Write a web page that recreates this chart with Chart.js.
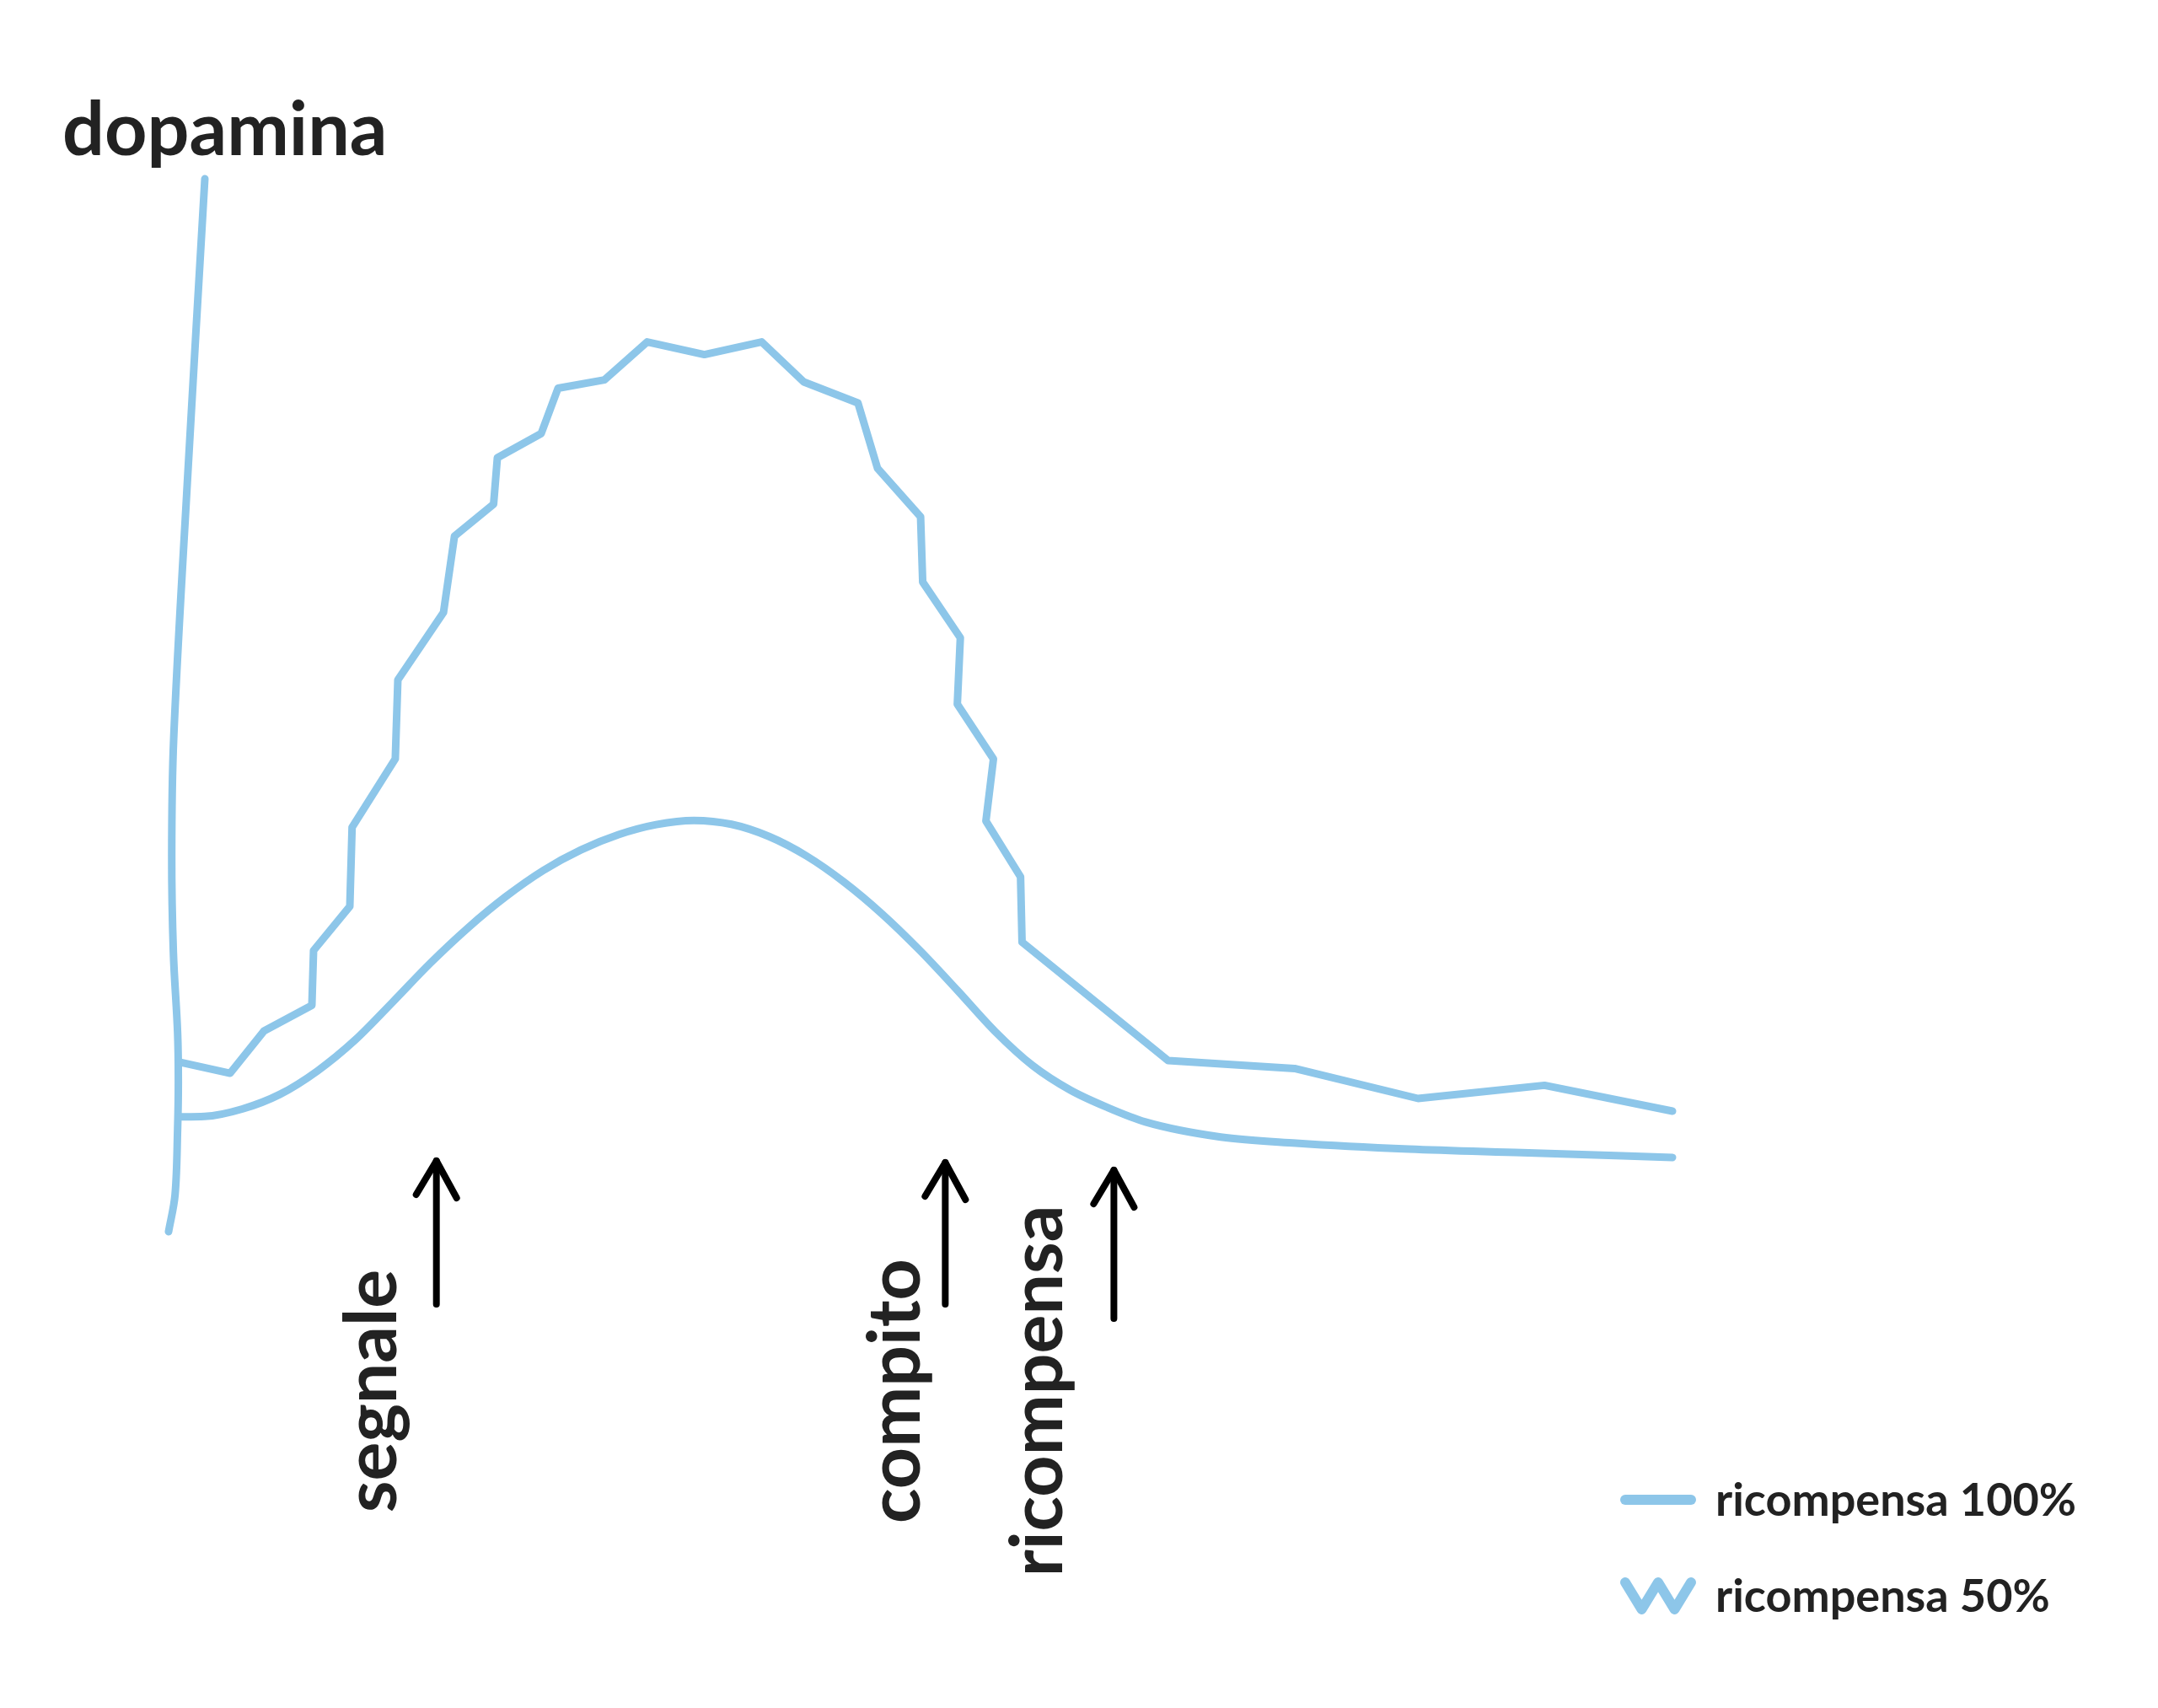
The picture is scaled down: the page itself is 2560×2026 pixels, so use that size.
<!DOCTYPE html>
<html>
<head>
<meta charset="utf-8">
<script src="https://cdn.jsdelivr.net/npm/chart.js@4"></script>
<style>
  html, body { margin: 0; padding: 0; background: #ffffff; }
  #wrap { width: 2560px; height: 2026px; position: relative; }
</style>
</head>
<body>
<div id="wrap"><canvas id="c"></canvas></div>
<script>
// ---------------- DATA ----------------
const yAxisTitle = 'dopamina';
const seriesLabels = ['ricompensa 100%', 'ricompensa 50%'];

// ricompensa 100% (smooth curve)
const time100 = [0.84, 2.5, 5, 7.5, 10, 12.5, 15, 17.5, 20, 22.5, 25, 27.5, 30, 32.5, 35, 37.5, 40, 42.5, 45, 47.5, 50, 52.5, 55, 57.5, 60, 62.5, 65, 70, 75, 82.5, 90, 100];
const dopa100 = [10.9, 10.94, 11.65, 13.04, 15.27, 18.2, 21.81, 25.51, 28.86, 31.81, 34.31, 36.26, 37.71, 38.66, 39.06, 38.69, 37.53, 35.67, 33.18, 30.18, 26.73, 22.93, 19.03, 15.78, 13.45, 11.78, 10.42, 8.99, 8.41, 7.84, 7.5, 7.05];

// ricompensa 50% (jagged curve)
const time50 = [0.84, 4.2, 6.44, 9.63, 9.74, 12.15, 12.3, 15.17, 15.34, 18.37, 19.1, 21.7, 21.95, 24.86, 25.98, 29.06, 31.9, 35.7, 39.5, 42.3, 45.9, 47.2, 50.06, 50.2, 52.7, 52.5, 54.9, 54.4, 56.7, 56.8, 66.5, 74.9, 83.1, 91.5, 100];
const dopa50 = [16.1, 15.05, 19.05, 21.5, 26.7, 30.9, 38.4, 44.9, 52.4, 58.8, 66.05, 69.1, 73.5, 75.8, 80.1, 80.9, 84.5, 83.3, 84.5, 80.7, 78.7, 72.5, 67.9, 61.7, 56.4, 50.1, 44.9, 39.0, 33.7, 27.5, 16.25, 15.5, 12.65, 13.9, 11.45];

// hand-drawn vertical axis
const axisTime = [2.52, 1.35, 0.45, 0.32, 0.43, 0.71, 0.76, 0.71, 0.54, 0.11];
const axisDopa = [100, 71, 46.8, 35.7, 26.5, 18.9, 14.25, 9.7, 3.5, 0];

// events (time of arrow)
const eventLabels = ['segnale', 'compito', 'ricompensa'];
const eventTimes = [17.9, 51.7, 62.9];

// ---------------- STYLE ----------------
const BLUE = '#8DC6E9';
const INK = '#222222';
const FONT = 'Lato, "Open Sans", sans-serif';
const eventLayout = [
  { tipDy: -84, tailDy: 86, labelDx: -48 },
  { tipDy: -82, tailDy: 86, labelDx: -30 },
  { tipDy: -73, tailDy: 103, labelDx: -61 }
];

function pts(xs, ys) { return xs.map((x, i) => ({ x: x, y: ys[i] })); }

const decor = {
  id: 'decor',
  afterDatasetsDraw(chart) {
    const ctx = chart.ctx;
    const xs = chart.scales.x, ys = chart.scales.y;
    const area = chart.chartArea;
    ctx.save();

    // y-axis title
    ctx.fillStyle = INK;
    ctx.font = 'bold 88px ' + FONT;
    ctx.textAlign = 'left';
    ctx.textBaseline = 'alphabetic';
    ctx.fillText(yAxisTitle, area.left - 124, area.top - 28);

    // event arrows + labels
    eventTimes.forEach((t, i) => {
      const L = eventLayout[i];
      const px = xs.getPixelForValue(t);
      const base = ys.getPixelForValue(0);
      const tipY = base + L.tipDy, tailY = base + L.tailDy;
      ctx.strokeStyle = '#000000';
      ctx.lineWidth = 8;
      ctx.lineCap = 'round';
      ctx.lineJoin = 'round';
      ctx.beginPath();
      ctx.moveTo(px, tailY);
      ctx.lineTo(px, tipY);
      ctx.stroke();
      ctx.beginPath();
      ctx.moveTo(px - 24, tipY + 40);
      ctx.lineTo(px, tipY);
      ctx.lineTo(px + 24, tipY + 44);
      ctx.stroke();

      ctx.save();
      ctx.translate(px + L.labelDx, base + 189);
      ctx.rotate(-Math.PI / 2);
      ctx.fillStyle = INK;
      ctx.font = 'bold 86px ' + FONT;
      ctx.textAlign = 'center';
      ctx.textBaseline = 'alphabetic';
      ctx.fillText(eventLabels[i], 0, 0);
      ctx.restore();
    });

    // legend
    const lx = area.right - 56, lw = 78;
    const rows = [area.bottom + 318, area.bottom + 432];
    ctx.strokeStyle = BLUE;
    ctx.lineWidth = 12;
    ctx.lineCap = 'round';
    ctx.lineJoin = 'round';
    ctx.beginPath();
    ctx.moveTo(lx, rows[0]);
    ctx.lineTo(lx + lw, rows[0]);
    ctx.stroke();
    ctx.beginPath();
    const zt = rows[1] - 16, zb = rows[1] + 16;
    ctx.moveTo(lx, zt);
    ctx.lineTo(lx + lw * 0.25, zb);
    ctx.lineTo(lx + lw * 0.5, zt);
    ctx.lineTo(lx + lw * 0.75, zb);
    ctx.lineTo(lx + lw, zt);
    ctx.stroke();

    ctx.fillStyle = INK;
    ctx.font = 'bold 54px ' + FONT;
    ctx.textAlign = 'left';
    ctx.textBaseline = 'middle';
    ctx.fillText(chart.data.datasets[0].label, lx + 107, rows[0] + 2);
    ctx.fillText(chart.data.datasets[1].label, lx + 107, rows[1] + 2);

    ctx.restore();
  }
};

new Chart(document.getElementById('c'), {
  type: 'line',
  data: {
    datasets: [
      {
        label: seriesLabels[0],
        data: pts(time100, dopa100),
        borderColor: BLUE,
        borderWidth: 9,
        pointRadius: 0,
        cubicInterpolationMode: 'monotone',
        borderCapStyle: 'round',
        borderJoinStyle: 'round',
        clip: false
      },
      {
        label: seriesLabels[1],
        data: pts(time50, dopa50),
        borderColor: BLUE,
        borderWidth: 9,
        pointRadius: 0,
        tension: 0,
        borderCapStyle: 'round',
        borderJoinStyle: 'round',
        clip: false
      },
      {
        label: 'axis',
        data: pts(axisTime, axisDopa),
        borderColor: BLUE,
        borderWidth: 9,
        pointRadius: 0,
        tension: 0.35,
        borderCapStyle: 'round',
        borderJoinStyle: 'round',
        clip: false
      }
    ]
  },
  options: {
    responsive: true,
    maintainAspectRatio: false,
    animation: false,
    devicePixelRatio: 1,
    layout: { padding: { left: 198, right: 576, top: 212, bottom: 565 } },
    scales: {
      x: { type: 'linear', min: 0, max: 100, display: false },
      y: { type: 'linear', min: 0, max: 100, display: false }
    },
    plugins: {
      legend: { display: false },
      tooltip: { enabled: false },
      title: { display: false }
    }
  },
  plugins: [decor]
});
</script>
</body>
</html>
